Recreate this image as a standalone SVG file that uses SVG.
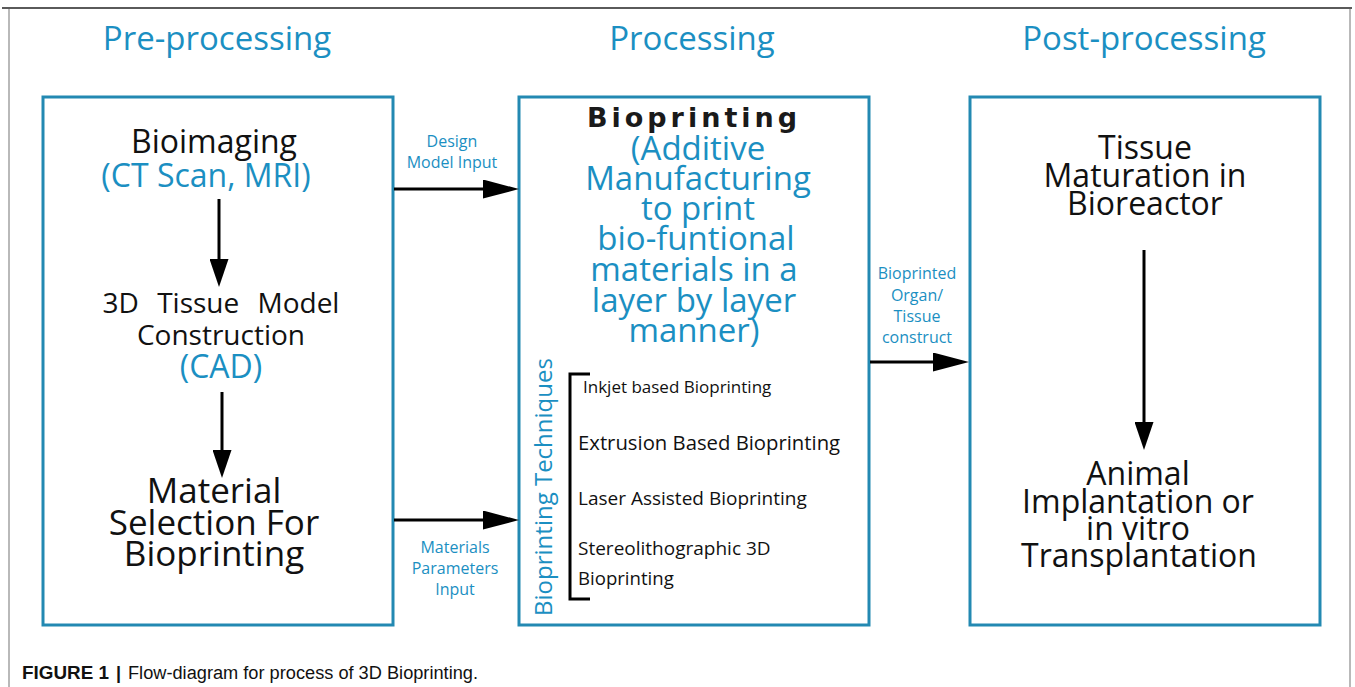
<svg xmlns="http://www.w3.org/2000/svg" width="1355" height="687" viewBox="0 0 1355 687">
<style>
.box{fill:#fff;stroke:#2389b2;stroke-width:3}
.t{font-family:"Open Sans","Liberation Sans",sans-serif;text-anchor:middle}
.blk{fill:#111}
.blu{fill:#1b8fc2}
.conn{stroke:#000;stroke-width:3;fill:none}
.cap{font-family:"Liberation Sans",Arial,sans-serif;font-size:18px;fill:#111}
</style>
<defs>
<marker id="ah" markerUnits="userSpaceOnUse" viewBox="0 0 36 19" refX="6" refY="9.5" markerWidth="36" markerHeight="19" orient="auto">
<path d="M0,0 L36,9.5 L0,19 Z" fill="#000"/>
</marker>
<marker id="av" markerUnits="userSpaceOnUse" viewBox="0 0 28 19" refX="6" refY="9.5" markerWidth="28" markerHeight="19" orient="auto">
<path d="M0,0 L28,9.5 L0,19 Z" fill="#000"/>
</marker>
</defs>
<rect width="1355" height="687" fill="#fff"/>
<g id="frame" fill="none">
<line x1="2" y1="8" x2="1352" y2="8" stroke="#5a5a5a" stroke-width="2"/>
<line x1="9" y1="9" x2="9" y2="687" stroke="#8a8a8a" stroke-width="1.2"/>
<line x1="1350" y1="9" x2="1350" y2="687" stroke="#8a8a8a" stroke-width="1.2"/>
</g>
<g id="headers" class="t blu" font-size="33">
<text x="217" y="50">Pre-processing</text>
<text x="692" y="50">Processing</text>
<text x="1144" y="50">Post-processing</text>
</g>
<g id="pre">
<rect class="box" x="43" y="97" width="350" height="528"/>
<g id="bioimaging" class="t">
<text x="214" y="153" font-size="32" class="blk">Bioimaging</text>
<text x="206" y="187" font-size="32" class="blu">(CT Scan, MRI)</text>
</g>
<g id="model" class="t">
<text x="221" y="313" font-size="28" word-spacing="11" class="blk">3D Tissue Model</text>
<text x="221" y="345" font-size="28" class="blk">Construction</text>
<text x="221" y="378" font-size="32" class="blu">(CAD)</text>
</g>
<g id="material" class="t blk" font-size="35">
<text x="214" y="503">Material</text>
<text x="214" y="535">Selection For</text>
<text x="214" y="566">Bioprinting</text>
</g>
</g>
<g id="processing">
<rect class="box" x="519" y="97" width="350" height="528"/>
<text x="694" y="127" font-family="'DejaVu Sans',sans-serif" font-weight="bold" font-size="27" letter-spacing="4" text-anchor="middle" fill="#1a1a1a">Bioprinting</text>
<g class="t blu" font-size="33">
<text x="698" y="160">(Additive</text>
<text x="698" y="190">Manufacturing</text>
<text x="698" y="220">to print</text>
<text x="696" y="250">bio-funtional</text>
<text x="694" y="281">materials in a</text>
<text x="694" y="312">layer by layer</text>
<text x="694" y="342">manner)</text>
</g>
<g id="techniques">
<text class="t blu" font-size="24" transform="translate(552,487) rotate(-90)">Bioprinting Techniques</text>
<path d="M590,374 L570,374 L570,599 L590,599" fill="none" stroke="#000" stroke-width="3"/>
<g font-family="'Open Sans','Liberation Sans',sans-serif" fill="#111">
<text x="583" y="393" font-size="17">Inkjet based Bioprinting</text>
<text x="578" y="450" font-size="20.3">Extrusion Based Bioprinting</text>
<text x="578" y="505" font-size="19">Laser Assisted Bioprinting</text>
<text x="578" y="555" font-size="19">Stereolithographic 3D</text>
<text x="578" y="585" font-size="18.6">Bioprinting</text>
</g>
</g>
</g>
<g id="post">
<rect class="box" x="970" y="97" width="350" height="528"/>
<g id="maturation" class="t blk" font-size="32">
<text x="1145" y="159">Tissue</text>
<text x="1145" y="187">Maturation in</text>
<text x="1145" y="215">Bioreactor</text>
</g>
<g id="implant" class="t blk" font-size="32">
<text x="1138" y="485">Animal</text>
<text x="1138" y="513">Implantation or</text>
<text x="1138" y="540">in vitro</text>
<text x="1139" y="567">Transplantation</text>
</g>
</g>
<g id="connectors">
<line class="conn" x1="219" y1="199" x2="219" y2="265" marker-end="url(#av)"/>
<line class="conn" x1="222" y1="392" x2="222" y2="456" marker-end="url(#av)"/>
<line class="conn" x1="1144" y1="250" x2="1144" y2="428" marker-end="url(#av)"/>
<line class="conn" x1="394" y1="189" x2="489" y2="189" marker-end="url(#ah)"/>
<line class="conn" x1="394" y1="520" x2="489" y2="520" marker-end="url(#ah)"/>
<line class="conn" x1="870" y1="362" x2="939" y2="362" marker-end="url(#ah)"/>
</g>
<g id="labels" class="t blu" font-size="16">
<text x="452" y="147">Design</text>
<text x="452" y="168">Model Input</text>
<text x="455" y="553">Materials</text>
<text x="455" y="574">Parameters</text>
<text x="455" y="595">Input</text>
<text x="917" y="279">Bioprinted</text>
<text x="917" y="301">Organ/</text>
<text x="917" y="322">Tissue</text>
<text x="917" y="343">construct</text>
</g>
<g id="caption">
<text class="cap" x="22" y="679" font-weight="bold" textLength="87" lengthAdjust="spacingAndGlyphs">FIGURE 1</text>
<text class="cap" x="116" y="679" font-weight="bold">|</text>
<text class="cap" x="128" y="679" textLength="350" lengthAdjust="spacingAndGlyphs">Flow-diagram for process of 3D Bioprinting.</text>
</g>
</svg>
